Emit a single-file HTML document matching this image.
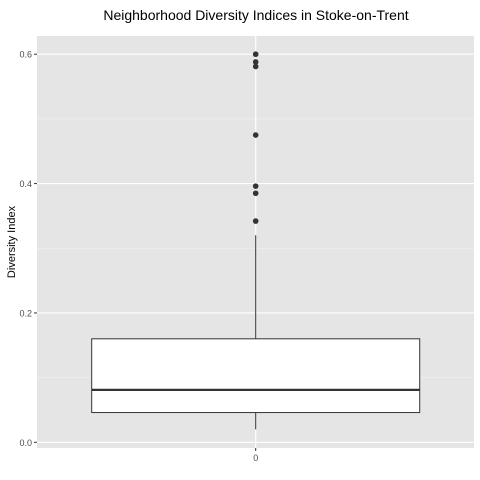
<!DOCTYPE html>
<html><head><meta charset="utf-8"><style>body{margin:0;background:#fff}svg{display:block;font-family:"Liberation Sans",sans-serif}</style></head>
<body>
<svg id="c" width="480" height="480">
<text x="256" y="20" text-anchor="middle" font-size="14" fill="#000">Neighborhood Diversity Indices in Stoke-on-Trent</text>
<rect x="37" y="36" width="437" height="412" fill="#e5e5e5"/>
<g id="grid"></g><g id="marks"></g><g id="axes"></g>
<text transform="translate(15,242) rotate(-90)" text-anchor="middle" font-size="11" fill="#000">Diversity Index</text>
</svg>
<script>
const categories=["0"];
const q1=[0.046], median=[0.081], q3=[0.160], whiskerLow=[0.020], whiskerHigh=[0.320];
const outliers=[0.600,0.588,0.581,0.475,0.396,0.385,0.342];
const yTicks=[0.0,0.2,0.4,0.6];
const yTickLabels=["0.0","0.2","0.4","0.6"];
const NS="http://www.w3.org/2000/svg";
function y(v){return 442.3-v*646.8;}
function x(i){return 255.7;}
function mk(p,t,a){const e=document.createElementNS(NS,t);for(const k in a)e.setAttribute(k,a[k]);document.getElementById(p).appendChild(e);return e;}
yTicks.forEach((v,i)=>{
 let g=mk('grid','line',{x1:37,x2:474,y1:y(v),y2:y(v),stroke:'#fff','stroke-width':1.1});
 
 
 if(i<yTicks.length-1){let m=mk('grid','line',{x1:37,x2:474,y1:y(v+0.1),y2:y(v+0.1),stroke:'#f2f2f2','stroke-width':0.6});
 
 }
 let t=mk('axes','line',{x1:34,x2:37,y1:y(v),y2:y(v),stroke:'#333'});
 
 
 let l=mk('axes','text',{x:32,y:y(v)+3.5,'text-anchor':'end','font-size':9,fill:'#4d4d4d'});l.textContent=yTickLabels[i];
 
 
});
categories.forEach((c,i)=>{
 const cx=x(i),hw=164;
 let g=mk('grid','line',{x1:cx,x2:cx,y1:36,y2:448,stroke:'#fff','stroke-width':1.1});
 
 
 let w1=mk('marks','line',{x1:cx,x2:cx,y1:y(q3[i]),y2:y(whiskerHigh[i]),stroke:'#333'});
 
 
 let w2=mk('marks','line',{x1:cx,x2:cx,y1:y(q1[i]),y2:y(whiskerLow[i]),stroke:'#333'});
 
 
 let b=mk('marks','rect',{x:cx-hw,y:y(q3[i]),width:2*hw,height:y(q1[i])-y(q3[i]),fill:'#fff',stroke:'#333','stroke-width':1});
 
 
 let m=mk('marks','line',{x1:cx-hw,x2:cx+hw,y1:y(median[i]),y2:y(median[i]),stroke:'#333','stroke-width':2.2});
 
 
 outliers.forEach(v=>{let p=mk('marks','circle',{cx:cx,cy:y(v),r:2.8,fill:'#333'});
 
 });
 let t=mk('axes','line',{x1:cx,x2:cx,y1:448,y2:451,stroke:'#333'});
 
 
 let l=mk('axes','text',{x:cx,y:461,'text-anchor':'middle','font-size':9,fill:'#4d4d4d'});l.textContent=c;
 
 
});
</script>
</body></html>
